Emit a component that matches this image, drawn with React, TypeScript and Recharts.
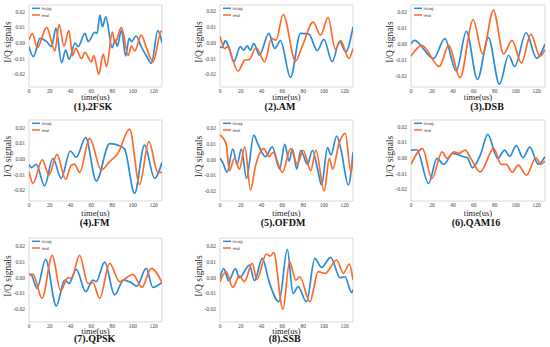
import { Legend, Line, LineChart, ReferenceArea, XAxis, YAxis } from 'recharts'

type Pt = [number, number]

const TITLES = ['(1).2FSK', '(2).AM', '(3).DSB', '(4).FM', '(5).OFDM', '(6).QAM16', '(7).QPSK', '(8).SSB']
const X_TICKS = [0, 20, 40, 60, 80, 100, 120]
const Y_TICKS = [-0.02, -0.01, 0, 0.01, 0.02]

// [time(us), value]
const fskImag: Pt[] = [
  [0, -0.0023], [4.2, -0.0087], [10.6, 0.003], [17, 0.0009], [21.8, -0.0023], [25.9, 0.0094],
  [31.4, -0.0126], [35.2, -0.0045], [38.7, -0.0104], [44.2, 0], [47.4, -0.0023], [53.8, 0.0062],
  [57, 0.0009], [63.4, 0.0068], [65.6, 0.0062], [68.2, 0.0179], [70.7, 0.0104], [73.9, 0.0168],
  [80, -0.003], [83, 0.002], [85, -0.002], [89, 0.0083], [93, -0.0083], [96.3, 0.003], [98.6, 0.0009],
  [103, 0.0045], [108, -0.0023], [113, -0.0083], [117.8, -0.013], [124, 0.0079], [128, 0.0002],
]
const fskReal: Pt[] = [
  [0, 0.0019], [3.2, 0.006], [8, -0.003], [17, 0.01], [25, -0.005], [29, 0.012], [33.6, -0.002],
  [38.4, 0.008], [42, -0.008], [45, -0.0034], [50.6, -0.01], [53.8, -0.006], [60, -0.012],
  [62.4, -0.008], [67.2, -0.02], [71.4, -0.007], [74.6, -0.015], [80.3, 0.007], [82.6, 0],
  [89, 0.01], [95.4, -0.008], [98.6, -0.002], [101.8, -0.005], [108, 0.005], [113, -0.003],
  [119.4, -0.012], [127.4, 0.0077], [128, 0.007],
]
const amImag: Pt[] = [
  [0, -0.0025], [1.9, -0.003], [5.1, 0.0013], [8.4, -0.0025], [13.2, -0.012], [19.6, -0.0025],
  [22.8, -0.0046], [26, -0.002], [29.3, -0.0046], [32.5, -0.0004], [37.9, -0.0078], [47, 0.0059],
  [52.7, -0.0036], [58.2, 0.0013], [67.8, -0.0219], [77.5, 0.0059], [85.5, 0.0055], [93.6, -0.005],
  [100, 0.0021], [108, -0.012], [115, 0.0008], [121, -0.0057], [128, 0.0101],
]
const amReal: Pt[] = [
  [0, 0.0042], [4.5, -0.0038], [6.8, -0.0025], [17.4, -0.0179], [23.8, -0.011], [28.3, -0.0105],
  [34.7, -0.003], [43, -0.012], [49.5, 0.0027], [54, 0.0017], [60.8, 0.0179], [72.7, -0.0116],
  [79, -0.0025], [89.7, 0.013], [96.8, 0.0048], [104, 0.016], [111, -0.0042], [116, 0.0013],
  [124, -0.0099], [128, -0.0036],
]
const dsbImag: Pt[] = [
  [0, 0.0002], [3.2, 0.0023], [21.6, -0.0091], [32.3, 0.0034], [43.2, -0.0168], [52.9, 0.0079],
  [63.5, -0.0221], [73.9, 0.004], [84.5, -0.0251], [93.2, -0.007], [99, -0.014], [110, 0.007],
  [120, -0.0089], [128, 0],
]
const dsbReal: Pt[] = [
  [0, -0.0077], [10.3, -0.0009], [27, -0.014], [36, -0.0009], [46.8, -0.021], [59.4, 0.0151],
  [68.4, -0.0062], [78.7, 0.0211], [88.4, -0.0062], [96.5, 0.0023], [105.5, -0.0119],
  [114.5, 0.0062], [123.2, -0.0077], [128, -0.0034],
]
const fmImag: Pt[] = [
  [0, -0.0034], [2.2, -0.0055], [7, -0.0034], [15, -0.0172], [23, 0.0004], [31, -0.0123],
  [39.7, 0.0051], [45.5, 0.0011], [54.5, 0.0136], [64.7, -0.014], [77.6, 0.0098], [87.2, 0.0085],
  [92, 0.0064], [101.6, -0.0219], [111.2, 0.0089], [120.8, -0.0123], [128, -0.0021],
]
const fmReal: Pt[] = [
  [0, -0.0081], [3.8, -0.0155], [12.8, -0.0006], [19.2, -0.0102], [26.9, 0.003], [35.3, -0.013],
  [40.7, -0.0038], [43.9, -0.0034], [48.7, -0.0085], [58.3, 0.0132], [69.6, -0.007], [77.6, -0.0017],
  [85.6, 0.0036], [96.8, 0.0191], [106.4, -0.0162], [115.4, 0.0111], [124, -0.0085], [128, -0.0085],
]
const ofdmImag: Pt[] = [
  [0, 0.0009], [2.6, -0.0017], [6.8, -0.0081], [12.3, 0.0068], [16.5, -0.003], [20.6, 0.0068],
  [25.5, -0.0119], [32.6, 0.0157], [35.8, 0.011], [43.9, 0.0019], [50.3, 0.0081], [57.4, -0.006],
  [62.3, 0.0098], [66.5, -0.0009], [69.7, 0.0068], [73.9, -0.006], [77.7, 0.006], [84.2, -0.003],
  [89, 0.006], [93.9, -0.006], [97.7, -0.0162], [103.5, 0.0077], [106.8, 0.003], [112.3, 0.0151],
  [116.5, 0.0062], [123.5, -0.0162], [128, 0.0047],
]
const ofdmReal: Pt[] = [
  [0, 0.0157], [5.8, 0.0104], [9, -0.007], [13.9, 0.0009], [18.7, -0.006], [23.9, 0.0081],
  [29.4, -0.0194], [34.2, -0.004], [42.3, 0.007], [47.1, 0.0019], [51, 0.0047], [60, -0.0081],
  [68, 0.007], [74.5, -0.003], [80, 0.006], [87.4, -0.007], [92.3, 0.006], [100.3, -0.02],
  [105.2, 0.0009], [108.4, -0.006], [114.8, 0.011], [120.6, 0.0168], [126, -0.0081], [128, -0.0009],
]
const qamImag: Pt[] = [
  [0, 0.0051], [5.5, 0.0053], [16.8, -0.0162], [24.8, -0.0002], [31.3, -0.004], [40, 0.003],
  [49, 0.0011], [53.9, 0.0002], [58.7, -0.0062], [66.8, 0.003], [73.2, 0.0151], [82.9, -0.0002],
  [89.4, 0.0051], [94.2, 0.0011], [100.6, 0.0079], [107, 0.0002], [113.5, 0.007], [121.6, -0.004],
  [128, 0.0009],
]
const qamReal: Pt[] = [
  [0, -0.004], [11, 0.006], [20, -0.013], [29.7, 0.004], [34.5, -0.0002], [41, 0.004], [45.8, 0.003],
  [51.6, 0.0051], [57.1, -0.0002], [66.1, -0.0089], [79, 0.006], [86.1, -0.004], [91, -0.004],
  [96.8, -0.0091], [102.3, -0.0045], [110.3, -0.0109], [119.4, 0.0002], [123.9, -0.004], [128, -0.0019],
]
const qpskImag: Pt[] = [
  [0, 0.0021], [2.2, 0.0017], [7.7, -0.0067], [16, 0.0116], [26.3, -0.0179], [34.3, -0.0015],
  [38.5, -0.0036], [45.5, 0.0053], [54.5, -0.0088], [61.5, -0.0015], [64.7, -0.0025], [72.8, 0.0099],
  [82.4, -0.0109], [91, -0.0015], [98.4, -0.0032], [103.8, -0.0053], [112.8, 0.0059], [119.2, -0.0061],
  [128, -0.003],
]
const qpskReal: Pt[] = [
  [0, 0.0021], [3.8, 0.0021], [12.5, -0.013], [22.4, 0.0141], [30.4, -0.0082], [37.5, 0], [40.7, -0.0004],
  [48.7, 0.0141], [56.7, -0.0036], [61.5, -0.0032], [68, -0.013], [77.6, 0.009], [87.2, -0.0025],
  [100, 0.0021], [108.7, -0.0061], [117.6, 0.0059], [128, -0.003],
]
const ssbImag: Pt[] = [
  [0, 0], [3.5, 0.0057], [8.4, -0.0019], [14.8, 0.0057], [18.7, 0], [28.4, 0.008], [33.2, -0.0019],
  [40.6, 0.0122], [47.7, -0.0036], [56.8, -0.0152], [64.8, 0.0179], [70.3, -0.0099], [75.2, -0.0057],
  [83.2, -0.0152], [91.3, 0.0122], [97.7, 0.0065], [106.5, 0.0128], [115.5, 0], [120.3, 0.0006],
  [126.8, -0.0095], [128, -0.0074],
]
const ssbReal: Pt[] = [
  [0, -0.0025], [5.8, 0.0038], [12.3, -0.0061], [18.7, 0.0011], [23.5, -0.0025], [31, 0.009],
  [35.5, -0.0011], [44.5, 0.0149], [48.4, 0.0137], [51.6, 0.0158], [60.6, -0.02], [67, 0.0101],
  [72.9, -0.0015], [76.8, 0.0006], [86.5, -0.0152], [94.5, 0.0038], [101, 0.0027], [112.3, 0.0112],
  [118.7, 0.0027], [124.5, 0.0086], [128, -0.0015],
]

const IMAG = [fskImag, amImag, dsbImag, fmImag, ofdmImag, qamImag, qpskImag, ssbImag]
const REAL = [fskReal, amReal, dsbReal, fmReal, ofdmReal, qamReal, qpskReal, ssbReal]

// y limits of each subplot (matplotlib autoscale)
const Y_DOMAINS: [number, number][] = [
  [-0.0281, 0.0243], [-0.028, 0.0239], [-0.0268, 0.0243],
  [-0.0268, 0.0249], [-0.0264, 0.0253], [-0.0274, 0.0243],
  [-0.028, 0.0251], [-0.028, 0.0251],
]

const BLUE = '#2b8bd8'
const ORANGE = '#fd6a2a'
const SERIF = "'Liberation Serif', 'Times New Roman', serif"
const SANS = "'DejaVu Sans', sans-serif"

// plot-box layout of the grid
const COL_LEFT = [29, 220, 411]
const COL_WIDTH = [133, 133, 134]
const ROW_TOP = [5, 120, 238]
const ROW_HEIGHT = [82, 81, 84]
const XLABEL_BASE = [13, 15, 11.5] // baseline of "time(us)" below the box, per row
const TITLE_X = [93, 280, 487, 94.5, 283, 476, 94.7, 284.7]
const TITLE_Y = [107, 223, 339]
const AXIS_W = 29
const XAXIS_H = 18

const TICK = { fontSize: 5.5, fill: '#444', fontFamily: SERIF }

const toRows = (pts: Pt[]) => pts.map(([t, v]) => ({ t, v }))

const renderYLabel = (props: any) => {
  const vb = props.viewBox
  const cx = vb.x + vb.width - 21
  const cy = vb.y + vb.height / 2 - 4
  return (
    <text
      x={cx}
      y={cy}
      transform={`rotate(-90 ${cx} ${cy})`}
      textAnchor="middle"
      dominantBaseline="central"
      fontSize={9.5}
      fill="#222"
      fontFamily={SERIF}
    >
      I/Q signals
    </text>
  )
}

const renderLegend = (props: any) => {
  const items = props.payload ?? []
  return (
    <svg width={34} height={16} style={{ display: 'block' }}>
      {items.map((it: any, i: number) => (
        <g key={it.value}>
          <line x1={1} x2={9} y1={3.3 + i * 6.7} y2={3.3 + i * 6.7} stroke={it.color} strokeWidth={1.5} />
          <text x={10.5} y={3.3 + i * 6.7} fontSize={4} dominantBaseline="central" fill="#333" fontFamily={SANS}>
            {it.value}
          </text>
        </g>
      ))}
    </svg>
  )
}

function Panel({ idx }: { idx: number }) {
  const col = idx % 3
  const row = Math.floor(idx / 3)
  const [yMin, yMax] = Y_DOMAINS[idx]
  const width = AXIS_W + COL_WIDTH[col] + 2
  const height = 1 + ROW_HEIGHT[row] + XAXIS_H
  return (
    <div style={{ position: 'absolute', left: COL_LEFT[col] - AXIS_W, top: ROW_TOP[row] - 1 }}>
      <LineChart width={width} height={height} margin={{ top: 1, right: 2, bottom: 0, left: 0 }}>
        <XAxis
          type="number"
          dataKey="t"
          domain={[0, 128]}
          allowDataOverflow
          ticks={X_TICKS}
          height={XAXIS_H}
          tickLine={false}
          axisLine={false}
          tickSize={0}
          tickMargin={2}
          tick={TICK}
          label={{
            value: 'time(us)',
            position: 'insideBottom',
            offset: XAXIS_H - XLABEL_BASE[row],
            fontSize: 8.5,
            fill: '#222',
            fontFamily: SERIF,
          }}
        />
        <YAxis
          type="number"
          domain={[yMin, yMax]}
          allowDataOverflow
          ticks={Y_TICKS}
          tickFormatter={(v: number) => v.toFixed(2)}
          width={AXIS_W}
          tickLine={false}
          axisLine={false}
          tickSize={0}
          tickMargin={4}
          tick={TICK}
          label={renderYLabel}
        />
        <ReferenceArea x1={0} x2={128} y1={yMin} y2={yMax} fill="none" stroke="#cfcfcf" strokeWidth={0.8} />
        <Line
          data={toRows(IMAG[idx])}
          dataKey="v"
          name="imag"
          type="monotone"
          stroke={BLUE}
          strokeWidth={1.7}
          dot={false}
          activeDot={false}
          isAnimationActive={false}
        />
        <Line
          data={toRows(REAL[idx])}
          dataKey="v"
          name="real"
          type="monotone"
          stroke={ORANGE}
          strokeWidth={1.7}
          dot={false}
          activeDot={false}
          isAnimationActive={false}
        />
        <Legend
          layout="vertical"
          align="center"
          verticalAlign="middle"
          content={renderLegend}
          wrapperStyle={{ left: AXIS_W + 2, top: 1, width: 34, height: 16 }}
        />
      </LineChart>
    </div>
  )
}

export default function App() {
  return (
    <div style={{ position: 'absolute', left: 0, top: 0, width: 550, height: 347, background: '#fff', overflow: 'hidden' }}>
      {TITLES.map((title, idx) => (
        <Panel key={title} idx={idx} />
      ))}
      {TITLES.map((title, idx) => (
        <div
          key={'t' + title}
          style={{
            position: 'absolute',
            left: TITLE_X[idx] - 40,
            top: TITLE_Y[Math.floor(idx / 3)] - 5,
            width: 80,
            textAlign: 'center',
            fontFamily: SERIF,
            fontWeight: 'bold',
            fontSize: 10,
            lineHeight: '10px',
            color: '#111',
          }}
        >
          {title}
        </div>
      ))}
    </div>
  )
}
